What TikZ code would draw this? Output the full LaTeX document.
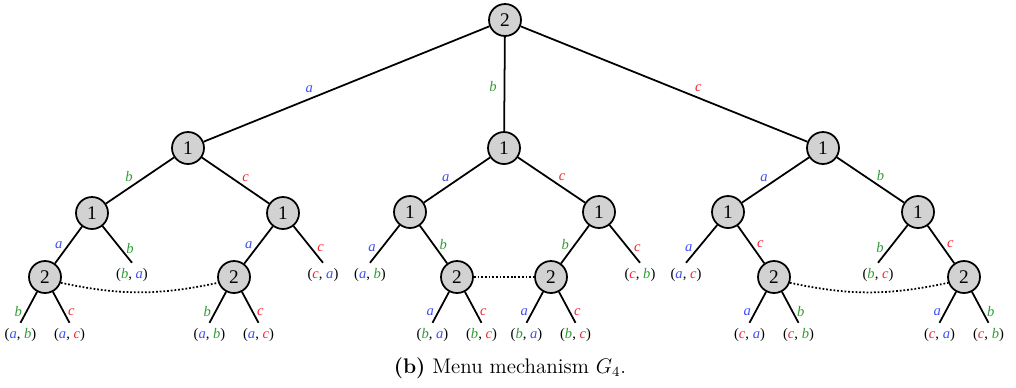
\documentclass[tikz,border=0pt]{standalone}
\usepackage{fontspec}
\newfontfamily\treefont{Liberation Serif}
\usetikzlibrary{calc}
\definecolor{ablue}{HTML}{3F51F2}
\definecolor{bgreen}{HTML}{2E9B33}
\definecolor{cred}{HTML}{F42430}
\definecolor{decgray}{HTML}{D2D2D2}
\newcommand{\chA}{\textcolor{ablue}{\textit{a}}}
\newcommand{\chB}{\textcolor{bgreen}{\textit{b}}}
\newcommand{\chC}{\textcolor{cred}{\textit{c}}}

\begin{document}
\begin{tikzpicture}[
  x=0.02cm,y=-0.02cm,
  dec/.style={circle,draw,fill=decgray,line width=1pt,minimum size=0.64cm,inner sep=0pt,font=\treefont\fontsize{11}{12}\selectfont},
  leaf/.style={font=\treefont\fontsize{8.3}{10}\selectfont,inner sep=3pt},
  lab/.style={font=\treefont\fontsize{8.3}{10}\selectfont,inner sep=1pt},
  branch/.style={line width=1pt},
  tie/.style={line width=1pt,dash pattern=on 1pt off 1.1pt}
]
  \useasboundingbox (0,0) rectangle (1016,387);
  % decision nodes
  \node[dec] (r) at (505,20) {2};
  \node[dec] (A) at (188,148) {1};
  \node[dec] (B) at (504,148) {1};
  \node[dec] (C) at (823,148) {1};
  \node[dec] (A1) at (92,213) {1};
  \node[dec] (A2) at (283,213) {1};
  \node[dec] (B1) at (410,212) {1};
  \node[dec] (B2) at (599,212) {1};
  \node[dec] (C1) at (728,212) {1};
  \node[dec] (C2) at (918,212) {1};
  \node[dec] (A1a) at (45,277) {2};
  \node[dec] (A2a) at (234,277) {2};
  \node[dec] (B1b) at (457,277) {2};
  \node[dec] (B2b) at (551,277) {2};
  \node[dec] (C1c) at (774,277) {2};
  \node[dec] (C2c) at (964,277) {2};
  % early leaves
  \node[leaf] (A1l) at (132,275) {(\chB, \chA)};
  \node[leaf] (A2l) at (323,275) {(\chC, \chA)};
  \node[leaf] (B1l) at (370,275) {(\chA, \chB)};
  \node[leaf] (B2l) at (640,275) {(\chC, \chB)};
  \node[leaf] (C1l) at (686,275) {(\chA, \chC)};
  \node[leaf] (C2l) at (878,275) {(\chB, \chC)};
  % first move
  \draw[branch] (r) -- node[lab,pos=.63,above=2pt] {\chA} (A);
  \draw[branch] (r) -- node[lab,pos=.53,left=3pt] {\chB} (B);
  \draw[branch] (r) -- node[lab,pos=.62,above=2pt] {\chC} (C);
  % second move
  \draw[branch] (A) -- node[lab,pos=.66,above=2pt] {\chB} (A1);
  \draw[branch] (A) -- node[lab,pos=.65,above=2pt] {\chC} (A2);
  \draw[branch] (B) -- node[lab,pos=.67,above=2pt] {\chA} (B1);
  \draw[branch] (B) -- node[lab,pos=.66,above=2pt] {\chC} (B2);
  \draw[branch] (C) -- node[lab,pos=.67,above=2pt] {\chA} (C1);
  \draw[branch] (C) -- node[lab,pos=.65,above=2pt] {\chB} (C2);
  % third move
  \draw[branch] (A1) -- node[lab,pos=.5,left=2pt] {\chA} (A1a);
  \draw[branch] (A1) -- node[lab,pos=.6,right=2pt] {\chB} (A1l.north);
  \draw[branch] (A2) -- node[lab,pos=.5,left=2pt] {\chA} (A2a);
  \draw[branch] (A2) -- node[lab,pos=.6,right=2pt] {\chC} (A2l.north);
  \draw[branch] (B1) -- node[lab,pos=.6,left=2pt] {\chA} (B1l.north);
  \draw[branch] (B1) -- node[lab,pos=.5,right=2pt] {\chB} (B1b);
  \draw[branch] (B2) -- node[lab,pos=.5,left=2pt] {\chB} (B2b);
  \draw[branch] (B2) -- node[lab,pos=.6,right=2pt] {\chC} (B2l.north);
  \draw[branch] (C1) -- node[lab,pos=.6,left=2pt] {\chA} (C1l.north);
  \draw[branch] (C1) -- node[lab,pos=.5,right=2pt] {\chC} (C1c);
  \draw[branch] (C2) -- node[lab,pos=.6,left=2pt] {\chB} (C2l.north);
  \draw[branch] (C2) -- node[lab,pos=.5,right=2pt] {\chC} (C2c);
  % last move of player 2
  \foreach \p/\f/\s/\t in {A1a/\chA/\chB/\chC, A2a/\chA/\chB/\chC,
      B1b/\chB/\chA/\chC, B2b/\chB/\chA/\chC,
      C1c/\chC/\chA/\chB, C2c/\chC/\chA/\chB} {
    \node[leaf] (\p l) at ($(\p)+(-24.5,58)$) {(\f, \s)};
    \node[leaf] (\p r) at ($(\p)+(24.5,58)$) {(\f, \t)};
    \draw[branch] (\p) -- node[lab,pos=.65,left=1pt] {\s} (\p l.north);
    \draw[branch] (\p) -- node[lab,pos=.65,right=1pt] {\t} (\p r.north);
  }
  % information sets
  \draw[tie] (A1a.-20) to[bend right=12] (A2a.200);
  \draw[tie] (B1b) -- (B2b);
  \draw[tie] (C1c.-20) to[bend right=12] (C2c.200);
  \node[font=\fontsize{12}{14}\selectfont] (cap) at (510,368) {\textbf{(b)} Menu mechanism $G_4$.};
\end{tikzpicture}
\end{document}
